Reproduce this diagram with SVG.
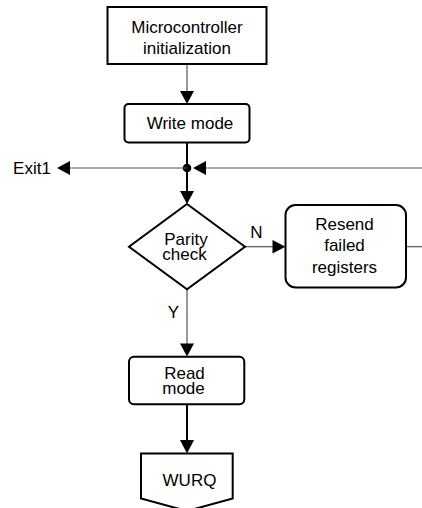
<svg xmlns="http://www.w3.org/2000/svg" width="422" height="508" viewBox="0 0 422 508">
<style>
text{font-family:"Liberation Sans",Arial,sans-serif;font-size:17px;fill:#000;text-anchor:middle}
.box{fill:#fff;stroke:#000;stroke-width:2}
.thin{stroke:#555;stroke-width:1.2;fill:none}
.thick{stroke:#000;stroke-width:2;fill:none}
.ah{fill:#000;stroke:none}
</style>
<rect width="422" height="508" fill="#fff"/>
<g id="connectors">
  <line class="thin" x1="187" y1="64" x2="187" y2="92"/>
  <polygon class="ah" points="180,91 194,91 187,104"/>
  <line class="thick" x1="187" y1="143" x2="187" y2="192"/>
  <circle cx="187" cy="168" r="4.3" fill="#000"/>
  <polygon class="ah" points="180,191 194,191 187,204"/>
  <line class="thin" x1="187" y1="168" x2="69" y2="168"/>
  <polygon class="ah" points="70,161 70,175 57,168"/>
  <line class="thin" x1="422" y1="168" x2="204" y2="168"/>
  <polygon class="ah" points="206,161 206,175 193,168"/>
  <text x="256.5" y="238" font-size="16">N</text>
  <line class="thin" x1="245" y1="246.7" x2="274" y2="246.7"/>
  <polygon class="ah" points="272.5,240 272.5,253.5 285.5,246.7"/>
  <line class="thin" x1="406" y1="246.7" x2="422" y2="246.7"/>
  <text x="173.5" y="318" font-size="16">Y</text>
  <line class="thin" x1="187" y1="289" x2="187" y2="345"/>
  <polygon class="ah" points="180,343.5 194,343.5 187,356.5"/>
  <line class="thick" x1="187" y1="404" x2="187" y2="441"/>
  <polygon class="ah" points="180,440 194,440 187,453.5"/>
  <text x="32" y="173.5" text-anchor="middle">Exit1</text>
</g>
<g id="init">
  <rect class="box" x="107.5" y="7" width="159" height="57"/>
  <text x="187" y="32.5">Microcontroller</text>
  <text x="187" y="54">initialization</text>
</g>
<g id="write">
  <rect class="box" x="124.5" y="104" width="125" height="38.5" rx="4"/>
  <text x="190" y="128.5">Write mode</text>
</g>
<g id="parity">
  <polygon class="box" points="187,204 245,246.7 187,289.3 129,246.7"/>
  <text x="186" y="245">Parity</text>
  <text x="184.5" y="260">check</text>
</g>
<g id="resend">
  <rect class="box" x="285.5" y="205" width="120.5" height="82.5" rx="10"/>
  <text x="344.5" y="229.5">Resend</text>
  <text x="344.5" y="251">failed</text>
  <text x="344.5" y="272.5">registers</text>
</g>
<g id="read">
  <rect class="box" x="129" y="356.7" width="115.3" height="47.6" rx="5"/>
  <text x="184.5" y="379">Read</text>
  <text x="183.5" y="394.3">mode</text>
</g>
<g id="wurq">
  <polygon class="box" points="141,453.5 232.7,453.5 232.7,498.5 187,511 141,498.5"/>
  <text x="189.5" y="486">WURQ</text>
</g>
</svg>
